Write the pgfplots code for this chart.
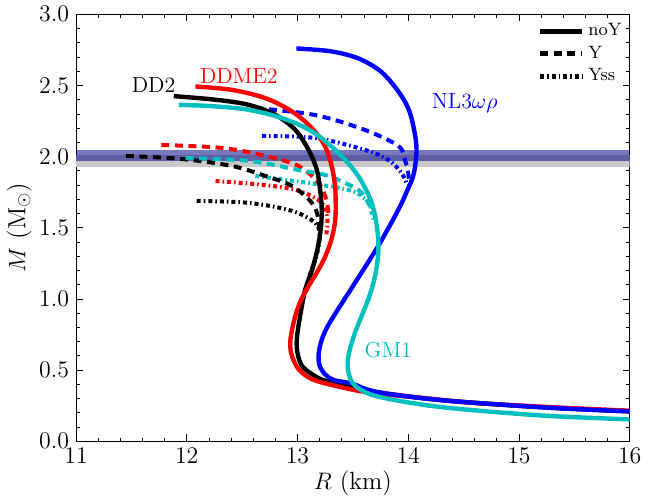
\documentclass[border=0pt]{standalone}
\usepackage{pgfplots}
\pgfplotsset{compat=1.18}
\definecolor{mcyan}{RGB}{0,191,191}
\definecolor{bandblue}{RGB}{0,0,132}
\begin{document}
\begin{tikzpicture}
\begin{axis}[
  scale only axis, width=277.5bp, height=214bp,
  xmin=11, xmax=16, ymin=0, ymax=3,
  xtick={11,12,...,16}, ytick={0,0.5,...,3},
  minor x tick num=4, minor y tick num=4,
  yticklabel style={/pgf/number format/.cd,fixed,fixed zerofill,precision=1},
  tick align=inside, major tick length=3.5bp, minor tick length=1.8bp,
  tick style={black, line width=0.4bp},
  axis line style={line width=0.5bp},
  tick label style={font=\fontsize{12.5}{14}\selectfont},
  label style={font=\fontsize{12.5}{14}\selectfont},
  xlabel={$R$ (km)}, ylabel={$M$ (M$_\odot$)},
  xlabel style={yshift=3bp}, ylabel style={yshift=-3bp},
  legend style={draw=none, fill=none, at={(0.997,0.993)}, anchor=north east,
    font=\fontsize{9}{9.5}\selectfont, row sep=-0.3bp, inner sep=1bp},
  legend cell align=left,
  legend image code/.code={\draw[#1] (0bp,0bp) -- (21bp,0bp);},
  clip=true,
  smooth, tension=0.55,
]
% bands
\addplot[draw=none, fill=gray!42, forget plot, sharp plot] coordinates {(11,1.93) (16,1.93) (16,2.01) (11,2.01)} -- cycle;
\addplot[draw=none, fill=bandblue, fill opacity=0.53, forget plot, sharp plot] coordinates {(11,1.97) (16,1.97) (16,2.05) (11,2.05)} -- cycle;

% legend
\addlegendimage{black, line width=2.4bp}
\addlegendentry{noY}
\addlegendimage{black, line width=2.4bp, dash pattern=on 4bp off 2.8bp}
\addlegendentry{Y}
\addlegendimage{black, line width=2.4bp, dash pattern=on 2bp off 1.5bp on 0.8bp off 1.5bp}
\addlegendentry{Yss}

% Yss (dash-dot)
\addplot[black, line width=2bp, dash pattern=on 2bp off 1.5bp on 0.8bp off 1.5bp, forget plot] coordinates {
(12.09,1.689) (12.56,1.675) (12.95,1.619) (13.16,1.535) (13.20,1.45) (13.17,1.30) (13.10,1.15)};
\addplot[red, line width=2bp, dash pattern=on 2bp off 1.5bp on 0.8bp off 1.5bp, forget plot] coordinates {
(12.26,1.829) (12.71,1.80) (13.01,1.76) (13.22,1.675) (13.27,1.556) (13.26,1.45)};
\addplot[mcyan, line width=2bp, dash pattern=on 2bp off 1.5bp on 0.8bp off 1.5bp, forget plot] coordinates {
(12.62,1.864) (13.10,1.815) (13.49,1.759) (13.64,1.675) (13.69,1.55)};
\addplot[blue, line width=2bp, dash pattern=on 2bp off 1.5bp on 0.8bp off 1.5bp, forget plot] coordinates {
(12.68,2.145) (13.16,2.131) (13.61,2.047) (13.82,1.977) (13.94,1.885) (13.99,1.80)};

% Y (dashed)
\addplot[black, line width=2bp, dash pattern=on 4bp off 2.8bp, forget plot] coordinates {
(11.45,2.005) (11.95,1.984) (12.41,1.934) (12.71,1.864) (12.95,1.794) (13.13,1.675) (13.19,1.56) (13.19,1.45)};
\addplot[red, line width=2bp, dash pattern=on 4bp off 2.8bp, forget plot] coordinates {
(11.77,2.082) (12.32,2.061) (12.71,2.005) (13.01,1.934) (13.19,1.815) (13.26,1.70) (13.28,1.60)};
\addplot[mcyan, line width=2bp, dash pattern=on 4bp off 2.8bp, forget plot] coordinates {
(11.99,1.99) (12.56,1.97) (13.01,1.906) (13.28,1.864) (13.55,1.766) (13.64,1.675) (13.67,1.60)};
\addplot[blue, line width=2bp, dash pattern=on 4bp off 2.8bp, forget plot] coordinates {
(12.62,2.341) (13.16,2.292) (13.61,2.187) (13.91,2.075) (13.97,1.977) (14.00,1.885) (14.01,1.80)};

% noY (solid)
\addplot[black, line width=2.2bp, forget plot] coordinates {
(11.883,2.425) (12.258,2.40) (12.559,2.364) (12.799,2.294) (12.979,2.189) (13.099,2.049)
(13.174,1.909) (13.204,1.768) (13.219,1.628) (13.21,1.49) (13.18,1.35) (13.13,1.20)
(13.07,1.067) (13.024,0.881) (12.994,0.72) (13.00,0.62) (13.04,0.531) (13.13,0.472)
(13.25,0.425) (13.49,0.378) (13.73,0.343) (14.33,0.287) (15.23,0.238) (16.0,0.21)};
\addplot[red, line width=2.2bp, forget plot] coordinates {
(12.078,2.493) (12.408,2.469) (12.709,2.411) (12.949,2.318) (13.129,2.201) (13.249,2.073)
(13.309,1.932) (13.339,1.792) (13.345,1.628) (13.335,1.52) (13.30,1.40) (13.24,1.28)
(13.17,1.18) (13.10,1.09) (13.03,0.99) (12.98,0.88) (12.945,0.76) (12.934,0.68) (12.95,0.60)
(13.01,0.507) (13.13,0.437) (13.34,0.39) (13.64,0.343) (14.09,0.308) (14.54,0.273)
(15.23,0.242) (16.0,0.215)};
\addplot[blue, line width=2.2bp, forget plot] coordinates {
(12.99,2.76) (13.30,2.74) (13.55,2.69) (13.75,2.60) (13.90,2.47) (14.00,2.34) (14.05,2.20)
(14.075,2.05) (14.05,1.88) (13.99,1.76) (13.91,1.626) (13.73,1.374) (13.52,1.114)
(13.36,0.92) (13.26,0.79) (13.21,0.69) (13.19,0.60) (13.20,0.53) (13.25,0.47) (13.33,0.43)
(13.49,0.405) (13.73,0.345) (14.33,0.287) (15.23,0.238) (16.0,0.21)};
\addplot[mcyan, line width=2.2bp, forget plot] coordinates {
(11.928,2.364) (12.258,2.353) (12.559,2.329) (12.859,2.271) (13.129,2.178) (13.369,2.026)
(13.55,1.862) (13.67,1.675) (13.72,1.49) (13.73,1.33) (13.70,1.16) (13.64,1.0)
(13.52,0.764) (13.46,0.60) (13.46,0.484) (13.52,0.39) (13.70,0.32) (14.09,0.262)
(14.48,0.226) (15.23,0.18) (16.0,0.154)};

% curve labels
\node[font=\fontsize{11}{12}\selectfont, black] at (axis cs:11.70,2.50) {DD2};
\node[font=\fontsize{11}{12}\selectfont, red] at (axis cs:12.47,2.565) {DDME2};
\node[font=\fontsize{11}{12}\selectfont, blue] at (axis cs:14.51,2.376) {NL3$\omega\rho$};
\node[font=\fontsize{11}{12}\selectfont, mcyan] at (axis cs:13.82,0.638) {GM1};
\end{axis}
\end{tikzpicture}
\end{document}
